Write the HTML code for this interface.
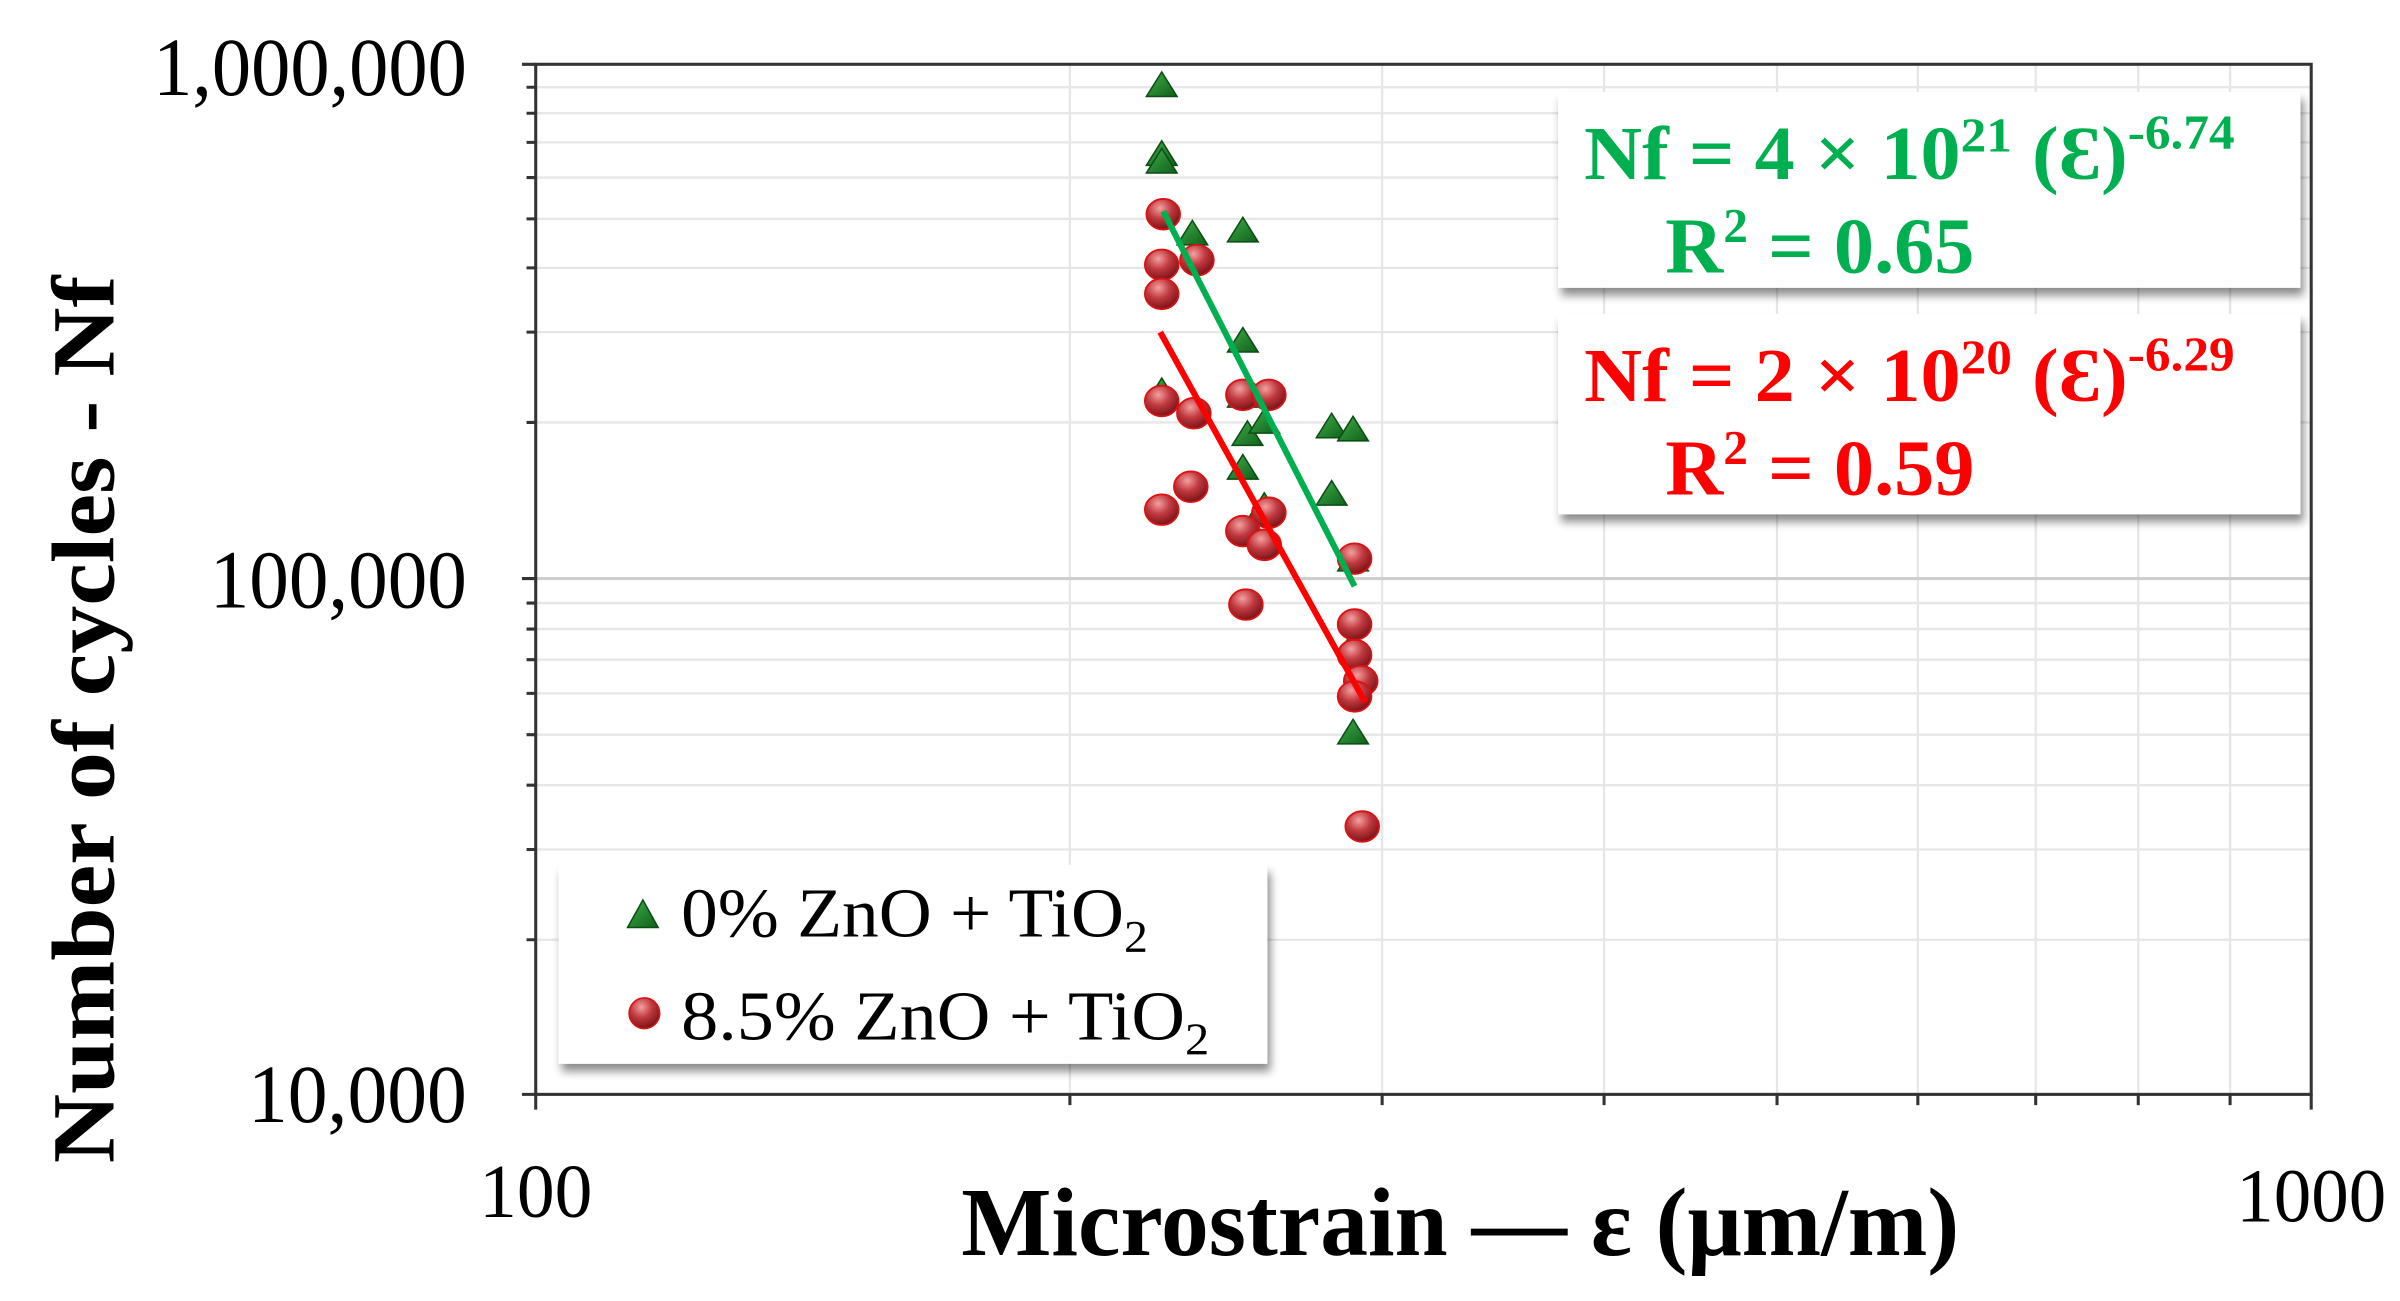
<!DOCTYPE html>
<html><head><meta charset="utf-8"><style>
html,body{margin:0;padding:0;background:#fff;}
svg{display:block;}
text{font-family:"Liberation Serif",serif;}
</style></head><body>
<svg width="2400" height="1301" viewBox="0 0 1568 850" xmlns="http://www.w3.org/2000/svg">
<defs>
<radialGradient id="rg" cx="0.4" cy="0.3" r="0.7">
<stop offset="0" stop-color="#f4a0a0"/><stop offset="0.5" stop-color="#c0393f"/><stop offset="1" stop-color="#7a1418"/>
</radialGradient>
<linearGradient id="tg" x1="0" y1="0" x2="1" y2="1">
<stop offset="0" stop-color="#3fae4a"/><stop offset="1" stop-color="#0f5f1a"/>
</linearGradient>
<filter id="sh" x="-5%" y="-5%" width="115%" height="125%"><feDropShadow dx="2" dy="5" stdDeviation="3" flood-color="#000" flood-opacity="0.45"/></filter>
</defs>
<rect width="1568" height="850" fill="#fff"/>
<g stroke="#e6e6e6" stroke-width="1.5">
<line x1="350" x2="1510" y1="614" y2="614"/><line x1="350" x2="1510" y1="555" y2="555"/><line x1="350" x2="1510" y1="513" y2="513"/><line x1="350" x2="1510" y1="480" y2="480"/><line x1="350" x2="1510" y1="453" y2="453"/><line x1="350" x2="1510" y1="431" y2="431"/><line x1="350" x2="1510" y1="411" y2="411"/><line x1="350" x2="1510" y1="394" y2="394"/>
<line x1="350" x2="1510" y1="276" y2="276"/><line x1="350" x2="1510" y1="217" y2="217"/><line x1="350" x2="1510" y1="175" y2="175"/><line x1="350" x2="1510" y1="143" y2="143"/><line x1="350" x2="1510" y1="116" y2="116"/><line x1="350" x2="1510" y1="93" y2="93"/><line x1="350" x2="1510" y1="74" y2="74"/><line x1="350" x2="1510" y1="57" y2="57"/>
<line y1="42" y2="715" x1="699" x2="699"/><line y1="42" y2="715" x1="903" x2="903"/><line y1="42" y2="715" x1="1048" x2="1048"/><line y1="42" y2="715" x1="1161" x2="1161"/><line y1="42" y2="715" x1="1253" x2="1253"/><line y1="42" y2="715" x1="1330" x2="1330"/><line y1="42" y2="715" x1="1397" x2="1397"/><line y1="42" y2="715" x1="1457" x2="1457"/>
</g>
<line x1="350" x2="1510" y1="378" y2="378" stroke="#cfcfcf" stroke-width="2"/>
<g stroke="#333" stroke-width="2" fill="none">
<rect x="350" y="42" width="1160" height="673"/>
<path d="M341 42H350M341 715H350M341 378H350M344 614H350M344 555H350M344 513H350M344 480H350M344 453H350M344 431H350M344 411H350M344 394H350M344 276H350M344 217H350M344 175H350M344 143H350M344 116H350M344 93H350M344 74H350M344 57H350"/>
<path d="M350 715V725M699 715V722M903 715V722M1048 715V722M1161 715V722M1253 715V722M1330 715V722M1397 715V722M1457 715V722M1510 715V725"/>
</g>
<g font-size="54" text-anchor="end" fill="#000">
<text x="305" y="62" textLength="205" lengthAdjust="spacingAndGlyphs">1,000,000</text>
<text x="305" y="397" textLength="168" lengthAdjust="spacingAndGlyphs">100,000</text>
<text x="305" y="733" textLength="143" lengthAdjust="spacingAndGlyphs">10,000</text>
</g>
<text x="350" y="795" font-size="50" text-anchor="middle" textLength="74" lengthAdjust="spacingAndGlyphs">100</text>
<text x="1510" y="798" font-size="50" text-anchor="middle" textLength="98" lengthAdjust="spacingAndGlyphs">1000</text>
<text x="954" y="820" font-size="64" font-weight="bold" text-anchor="middle" textLength="652" lengthAdjust="spacingAndGlyphs">Microstrain — ε (μm/m)</text>
<text transform="translate(74,470) rotate(-90)" font-size="58" font-weight="bold" text-anchor="middle" textLength="580" lengthAdjust="spacingAndGlyphs">Number of cycles - Nf</text>
<g fill="url(#tg)" stroke="#0c4d14" stroke-width="1">
<path id="t" d="M-10 8L0 -8L10 8Z" transform="translate(759,55)"/>
<use href="#t" transform="translate(0,45)"/><use href="#t" transform="translate(0,50)"/>
<use href="#t" transform="translate(20,97)"/><use href="#t" transform="translate(53,95)"/>
<use href="#t" transform="translate(0,200)"/>
<use href="#t" transform="translate(53,167)"/><use href="#t" transform="translate(53,203)"/>
<use href="#t" transform="translate(56,228)"/><use href="#t" transform="translate(53,250)"/>
<use href="#t" transform="translate(67,220)"/><use href="#t" transform="translate(67,275)"/>
<use href="#t" transform="translate(111,223)"/><use href="#t" transform="translate(125,225)"/>
<use href="#t" transform="translate(111,267)"/><use href="#t" transform="translate(125,310)"/>
<use href="#t" transform="translate(125,365)"/><use href="#t" transform="translate(125,423)"/>
</g>
<g fill="url(#rg)" stroke="#d11" stroke-width="1.2">
<ellipse cx="760" cy="140" rx="11" ry="10"/><ellipse cx="759" cy="173" rx="11" ry="10"/><ellipse cx="759" cy="192" rx="11" ry="10"/><ellipse cx="782" cy="170" rx="11" ry="10"/>
<ellipse cx="759" cy="262" rx="11" ry="10"/><ellipse cx="780" cy="270" rx="11" ry="10"/><ellipse cx="778" cy="318" rx="11" ry="10"/><ellipse cx="759" cy="333" rx="11" ry="10"/>
<ellipse cx="812" cy="258" rx="11" ry="10"/><ellipse cx="829" cy="258" rx="11" ry="10"/><ellipse cx="812" cy="347" rx="11" ry="10"/><ellipse cx="829" cy="335" rx="11" ry="10"/><ellipse cx="826" cy="356" rx="11" ry="10"/>
<ellipse cx="814" cy="395" rx="11" ry="10"/><ellipse cx="885" cy="365" rx="11" ry="10"/><ellipse cx="885" cy="408" rx="11" ry="10"/><ellipse cx="885" cy="428" rx="11" ry="10"/>
<ellipse cx="889" cy="445" rx="11" ry="10"/><ellipse cx="885" cy="455" rx="11" ry="10"/><ellipse cx="890" cy="540" rx="11" ry="10"/>
</g>
<line x1="760" y1="138" x2="885" y2="383" stroke="#00b050" stroke-width="4"/>
<line x1="758" y1="217" x2="892" y2="459" stroke="#ff0000" stroke-width="4"/>
<rect x="1018" y="60" width="485" height="128" fill="#fff" filter="url(#sh)"/>
<rect x="1018" y="205" width="485" height="131" fill="#fff" filter="url(#sh)"/>
<g font-weight="bold" fill="#00b050">
<text x="1035" y="117" font-size="50" textLength="425" lengthAdjust="spacingAndGlyphs">Nf = 4 × 10<tspan font-size="32" dy="-18">21</tspan><tspan dy="18"> (Ɛ)</tspan><tspan font-size="32" dy="-20">-6.74</tspan></text>
<text x="1088" y="178" font-size="52" textLength="202" lengthAdjust="spacingAndGlyphs">R<tspan font-size="32" dy="-20">2</tspan><tspan dy="20"> = 0.65</tspan></text>
</g>
<g font-weight="bold" fill="#ff0000">
<text x="1035" y="262" font-size="50" textLength="425" lengthAdjust="spacingAndGlyphs">Nf = 2 × 10<tspan font-size="32" dy="-18">20</tspan><tspan dy="18"> (Ɛ)</tspan><tspan font-size="32" dy="-20">-6.29</tspan></text>
<text x="1088" y="323" font-size="52" textLength="202" lengthAdjust="spacingAndGlyphs">R<tspan font-size="32" dy="-20">2</tspan><tspan dy="20"> = 0.59</tspan></text>
</g>
<rect x="365" y="565" width="463" height="130" fill="#fff" filter="url(#sh)"/>
<path d="M410 606L420 588L430 606Z" fill="url(#tg)" stroke="#0c4d14"/>
<ellipse cx="421" cy="662" rx="10" ry="10" fill="url(#rg)" stroke="#d11"/>
<text x="445" y="612" font-size="46" textLength="305" lengthAdjust="spacingAndGlyphs">0% ZnO + TiO<tspan font-size="30" dy="10">2</tspan></text>
<text x="445" y="679" font-size="46" textLength="345" lengthAdjust="spacingAndGlyphs">8.5% ZnO + TiO<tspan font-size="30" dy="10">2</tspan></text>
</svg>
</body></html>
